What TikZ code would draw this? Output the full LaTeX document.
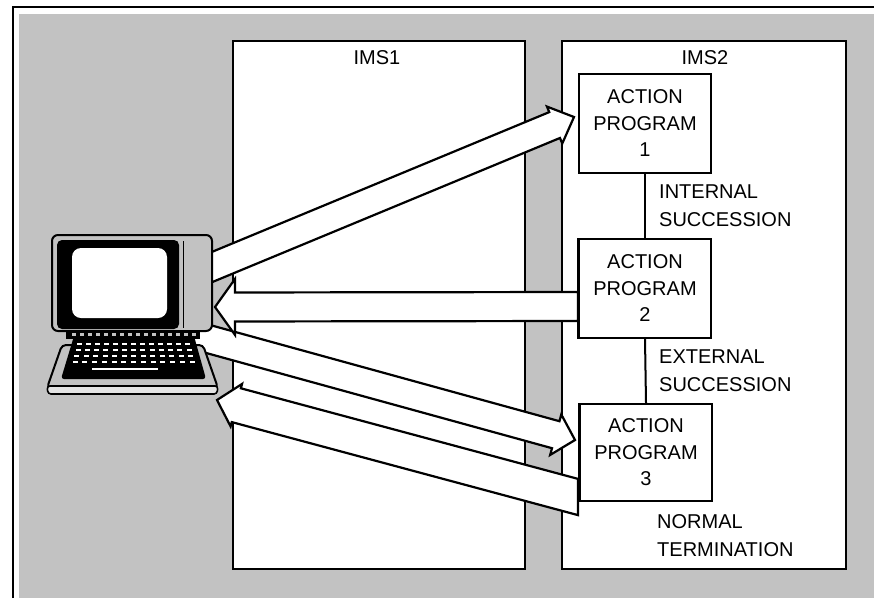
\documentclass[tikz,border=0pt]{standalone}
\usepackage{fontspec}
\setmainfont{Liberation Sans}
\usetikzlibrary{calc}

\definecolor{halftone}{gray}{0.76}

% Wide outlined block arrow from tail #1 to tip #2.
% #3 half width of the shaft, #4 half width of the head, #5 head length.
% The tail is cut off vertically through #1.
\newcommand{\blockarrow}[5]{%
  \coordinate (bah) at ($(#2)!#5!(#1)$);
  \coordinate (bauz) at ($(#1)!#3!90:(#2)$);
  \coordinate (baua) at ($(bah)!#3!90:(#2)$);
  \coordinate (badz) at ($(#1)!#3!-90:(#2)$);
  \coordinate (bada) at ($(bah)!#3!-90:(#2)$);
  \coordinate (baub) at ($(bah)!#4!90:(#2)$);
  \coordinate (badb) at ($(bah)!#4!-90:(#2)$);
  \coordinate (bav) at ($(#1)+(0,10)$);
  \coordinate (baut) at (intersection of bauz--baua and #1--bav);
  \coordinate (badt) at (intersection of badz--bada and #1--bav);
  \draw[bigarrow] (baut) -- (baua) -- (baub) -- (#2) -- (badb) -- (bada) -- (badt) -- cycle;
}

\begin{document}
\begin{tikzpicture}[x=1pt,y=-1pt,
  bigarrow/.style={draw=black, fill=white, line width=2.2pt, line join=miter},
  panel/.style={draw=black, fill=white, line width=2.6pt, inner sep=0pt},
  apbox/.style={draw=black, fill=white, line width=2pt, minimum width=132pt,
    inner sep=0pt, align=center, font=\fontsize{20}{26.5}\selectfont},
  lbl/.style={inner sep=0pt, anchor=west, align=left, font=\fontsize{20}{28}\selectfont},
  title/.style={inner sep=0pt, font=\fontsize{20}{24}\selectfont}]

\useasboundingbox (0,0) rectangle (874,598);

% frame and shaded ground
\fill[white] (0,0) rectangle (874,598);
\fill[halftone] (19,14) rectangle (874,598);
\draw[line width=2.6pt] (13,598) -- (13,7) -- (874,7);

% the two systems
\node[panel, minimum width=292pt, minimum height=528pt] (ims1) at (379,305) {};
\node[panel, minimum width=284pt, minimum height=528pt] (ims2) at (704,305) {};
\node[title] (ims1t) at ($(ims1.north)+(-2,17.5)$) {IMS1};
\node[title] (ims2t) at ($(ims2.north)+(1,18)$) {IMS2};

% action programs
\node[apbox, minimum height=99pt] (ap1) at (645,123.5) {ACTION\\PROGRAM\\1};
\node[apbox, minimum height=99pt] (ap2) at (645,288.5) {ACTION\\PROGRAM\\2};
\node[apbox, minimum height=97pt] (ap3) at (646,452.5) {ACTION\\PROGRAM\\3};

\draw[line width=2pt] (ap1.south) -- (ap2.north);
\draw[line width=2pt] (ap2.south) -- (ap3.north);

\node[lbl] (int) at (659,205.5) {INTERNAL\\SUCCESSION};
\node[lbl] (ext) at (659,371) {EXTERNAL\\SUCCESSION};
\node[lbl] (nrm) at (657,535.5) {NORMAL\\TERMINATION};

% arrow end points
\coordinate (t1) at (200,272);
\coordinate (h1) at ($(ap1.west)+(-4,-6.5)$);
\coordinate (t3) at (190,334);
\coordinate (h3) at ($(ap3.west)+(-4,-12.5)$);
\coordinate (t2) at ($(ap2.west)+(0,18)$);
\coordinate (h2) at (215,307);
\coordinate (t4) at ($(ap3.south west)+(-1,-5)$);
\coordinate (h4) at (217,400);

% arrows leaving the terminal (tails hidden behind it)
\blockarrow{t1}{h1}{14pt}{20pt}{21pt}
\blockarrow{t3}{h3}{14pt}{21pt}{20pt}

% terminal: keyboard
\draw[line width=2pt, fill=halftone, rounded corners=4pt]
  (62,345) -- (203,345) -- (218,388) -- (47,388) -- cycle;
\draw[line width=1.6pt, fill=white!55!halftone, rounded corners=3pt]
  (47,386) -- (218,386) -- (217,394) -- (48,394) -- cycle;
\fill[black, rounded corners=3pt] (74,336) -- (194,336) -- (206,379) -- (61,379) -- cycle;
\foreach \r/\yy in {0/343,1/349,2/355,3/361}{
  \foreach \k in {0,...,12}{
    \fill[white] ({77-1.5*\r+\k*(9+0.25*\r)},\yy) rectangle +(5,2.2);
  }
}
\fill[white] (92,368) rectangle (158,370.2);
\fill[black] (66,328) rectangle (200,339);
\foreach \k in {0,...,15}{
  \fill[halftone] ({72+\k*8},333) rectangle +(4,3);
}

% terminal: monitor
\draw[line width=2pt, fill=halftone, rounded corners=6pt] (52,235) rectangle (212,331);
\fill[black, rounded corners=5pt] (57,240) rectangle (179,329);
\draw[line width=1pt] (183,241) -- (183,328);
\fill[white, rounded corners=9pt] (72,248) rectangle (167,318);

% arrows coming back to the terminal
\blockarrow{t2}{h2}{14.5pt}{28pt}{20pt}
\blockarrow{t4}{h4}{17.5pt}{22pt}{20pt}

% redraw box edges over the arrow tails
\draw[line width=2pt] (ap2.north west) -- (ap2.south west);
\draw[line width=2pt] (ap3.north west) -- (ap3.south west);

\end{tikzpicture}
\end{document}
